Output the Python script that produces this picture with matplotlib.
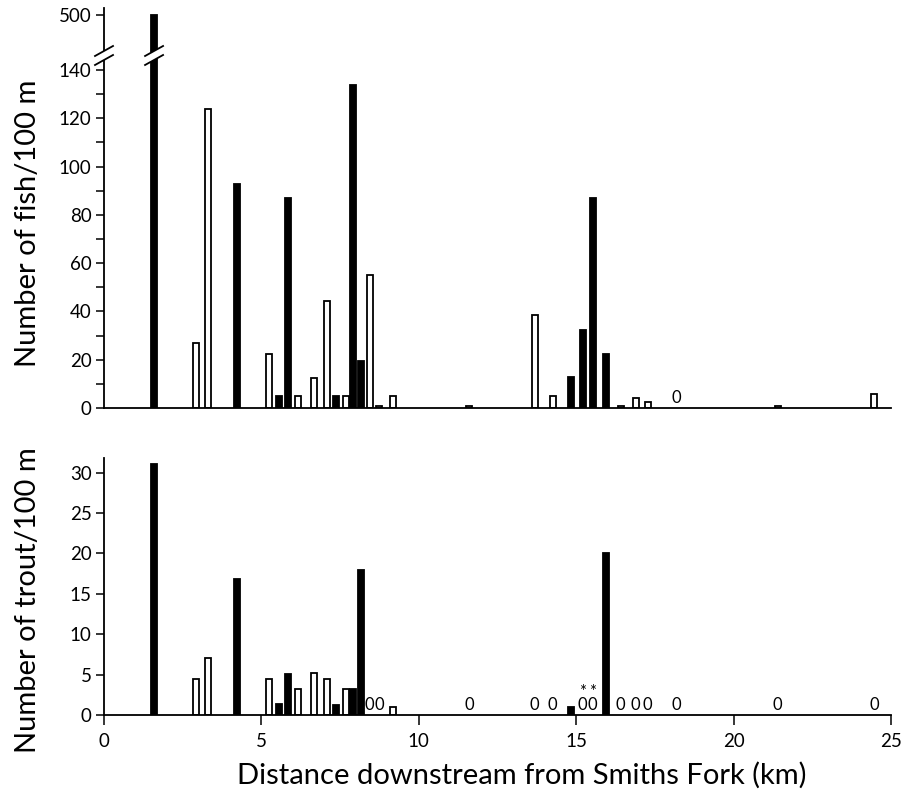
import matplotlib.pyplot as plt
from matplotlib.patches import Polygon
from matplotlib.lines import Line2D
from matplotlib.ticker import MultipleLocator

plt.rcParams['font.family'] = ['Lato', 'DejaVu Sans']

# --- datos (km aguas abajo, número por 100 m) ---
# panel superior: peces totales
fish_filled_km = [1.59, 4.22, 5.56, 5.84, 7.37, 7.90, 8.16, 14.83, 15.21, 15.52, 15.94]
fish_filled_n = [500, 93, 5, 87, 5, 134, 19.5, 13, 32.5, 87, 22.5]
fish_open_km = [2.92, 3.30, 5.24, 6.17, 6.67, 7.08, 7.68, 8.44, 8.73, 9.17,
                11.60, 13.68, 14.25, 16.41, 16.89, 17.27, 21.40, 24.46]
fish_open_n = [27, 124, 22.5, 5, 12.5, 44.5, 5, 55, 1, 5,
               1, 38.5, 5, 1, 4, 2.5, 1, 6]
fish_zero_km = [18.19]

# panel inferior: truchas
trout_filled_km = [1.59, 4.22, 5.56, 5.84, 7.37, 7.90, 8.16, 14.83, 15.94]
trout_filled_n = [31, 16.8, 1.4, 5.1, 1.2, 3.2, 18, 1.0, 20]
trout_open_km = [2.92, 3.30, 5.24, 6.17, 6.67, 7.08, 7.68, 9.17]
trout_open_n = [4.5, 7.0, 4.5, 3.2, 5.2, 4.5, 3.2, 1.0]
trout_zero_km = [8.44, 8.73, 11.60, 13.68, 14.25, 15.21, 15.52,
                 16.41, 16.89, 17.27, 18.19, 21.40, 24.46]
trout_star_km = [15.21, 15.52]

W, H = 907, 796
fig = plt.figure(figsize=(W / 100, H / 100), dpi=100)


def px(l, b, r, t):
    return [l / W, 1 - b / H, (r - l) / W, (b - t) / H]


ax_hi = fig.add_axes(px(104, 52, 891, 8))
ax_lo = fig.add_axes(px(104, 408, 891, 58))
ax_tr = fig.add_axes(px(104, 715, 891, 458))

bw = 0.19
lw = 1.3
for ax, fk, fn, ok, on in [(ax_hi, fish_filled_km, fish_filled_n, fish_open_km, fish_open_n),
                           (ax_lo, fish_filled_km, fish_filled_n, fish_open_km, fish_open_n),
                           (ax_tr, trout_filled_km, trout_filled_n, trout_open_km, trout_open_n)]:
    ax.bar(fk, fn, width=bw, color='black', edgecolor='black', linewidth=lw)
    ax.bar(ok, on, width=bw, color='white', edgecolor='black', linewidth=lw)
    ax.set_xlim(0, 25)
    for s in ['top', 'right']:
        ax.spines[s].set_visible(False)
    for s in ax.spines.values():
        s.set_linewidth(1.3)
    ax.tick_params(axis='y', which='both', direction='out', length=6, width=1.1,
                   labelsize=13.5, pad=3)

# tramo alto (500)
ax_hi.set_ylim(485, 503)
ax_hi.set_yticks([500])
ax_hi.spines['bottom'].set_visible(False)
ax_hi.tick_params(axis='x', bottom=False, labelbottom=False)

# tramo bajo 0-145
ax_lo.set_ylim(0, 145)
ax_lo.yaxis.set_major_locator(MultipleLocator(20))
ax_lo.yaxis.set_minor_locator(MultipleLocator(10))
ax_lo.tick_params(axis='y', which='minor', length=6, width=1.1)
ax_lo.tick_params(axis='x', bottom=False, labelbottom=False)
for k in fish_zero_km:
    ax_lo.annotate('0', (k, 0), xytext=(0, 1.5), textcoords='offset points',
                   ha='center', va='bottom', fontsize=12)

# panel truchas: ceros (con asterisco encima en dos sitios)
ax_tr.set_ylim(0, 31.8)
ax_tr.yaxis.set_major_locator(MultipleLocator(5))
ax_tr.xaxis.set_major_locator(MultipleLocator(5))
ax_tr.tick_params(axis='x', direction='out', length=7, width=1.1, labelsize=13.5, pad=6)
for k in trout_zero_km:
    label = '*\n0' if k in trout_star_km else '0'
    ax_tr.annotate(label, (k, 0), xytext=(0, 1.5), textcoords='offset points',
                   ha='center', va='bottom', fontsize=12, linespacing=0.75,
                   multialignment='center')

# marcas de corte del eje
fig.canvas.draw()
ybrk = H - 55
for xd in [0, fish_filled_km[0]]:
    xc = ax_lo.transData.transform((xd, 0))[0]
    l1 = [(xc - 9, ybrk - 1), (xc + 9, ybrk + 9)]
    l2 = [(xc - 9, ybrk - 10), (xc + 9, ybrk)]
    poly = Polygon([(x / W, y / H) for x, y in [l1[0], l1[1], l2[1], l2[0]]],
                   closed=True, facecolor='white', edgecolor='none',
                   transform=fig.transFigure, zorder=5)
    fig.add_artist(poly)
    for ln in (l1, l2):
        fig.add_artist(Line2D([p[0] / W for p in ln], [p[1] / H for p in ln],
                              color='black', linewidth=1.3, transform=fig.transFigure, zorder=6))

fig.text(28 / W, 1 - 223 / H, 'Number of fish/100 m', rotation=90,
         ha='center', va='center', fontsize=21)
fig.text(28 / W, 1 - 600 / H, 'Number of trout/100 m', rotation=90,
         ha='center', va='center', fontsize=21)
fig.text(522 / W, 1 - 775 / H, 'Distance downstream from Smiths Fork (km)',
         ha='center', va='center', fontsize=21)

fig.savefig('out.png', dpi=100)
